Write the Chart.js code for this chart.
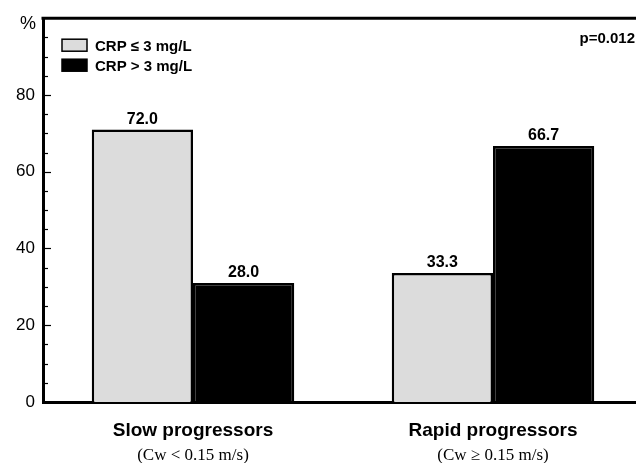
<!DOCTYPE html>
<html>
<head>
<meta charset="utf-8">
<script src="https://cdn.jsdelivr.net/npm/chart.js@4.4.1/dist/chart.umd.min.js"></script>
<style>
  html, body { margin: 0; padding: 0; background: #fff; overflow: hidden; }
  #wrap { position: relative; width: 643px; height: 463px; }
</style>
</head>
<body>
<div id="wrap"><canvas id="crpChart"></canvas></div>
<script>
  // groups on the x axis
  const categories = ['Slow progressors', 'Rapid progressors'];
  const subLabels = ['(Cw < 0.15 m/s)', '(Cw \u2265 0.15 m/s)'];

  // bar heights as drawn, and the figures printed over them
  const lowCrp = [71, 33.6];
  const highCrp = [31, 66.7];
  const lowCrpText = ['72.0', '33.3'];
  const highCrpText = ['28.0', '66.7'];

  const seriesNames = ['CRP \u2264 3 mg/L', 'CRP > 3 mg/L'];
  const yTickValues = [0, 20, 40, 60, 80];
  const pValue = 'p=0.012';

  const SANS = '"Liberation Sans", Arial, sans-serif';
  const SERIF = '"Liberation Serif", "Times New Roman", serif';

  const figurePlugin = {
    id: 'figure',
    afterDatasetsDraw(chart) {
      const ctx = chart.ctx;
      const area = chart.chartArea;
      const y = chart.scales.y;
      const x = chart.scales.x;
      ctx.save();

      // frame top line
      ctx.strokeStyle = '#000';
      ctx.lineWidth = 3;
      ctx.beginPath();
      ctx.moveTo(area.left - 1.5, area.top);
      ctx.lineTo(area.right, area.top);
      ctx.stroke();

      // inward ticks, long on labelled values
      for (let v = 5; v < 100; v += 5) {
        const py = Math.round(y.getPixelForValue(v)) + 0.5;
        const len = yTickValues.includes(v) ? 8 : 5;
        ctx.lineWidth = 1.2;
        ctx.beginPath();
        ctx.moveTo(area.left, py);
        ctx.lineTo(area.left + len, py);
        ctx.stroke();
      }

      // "%" unit at the top of the axis
      ctx.fillStyle = '#000';
      ctx.font = '18px ' + SANS;
      ctx.textAlign = 'right';
      ctx.textBaseline = 'alphabetic';
      ctx.fillText('%', area.left - 7, area.top + 11);

      // value labels over bars
      const texts = [lowCrpText, highCrpText];
      ctx.font = 'bold 16px ' + SANS;
      ctx.textAlign = 'center';
      chart.data.datasets.forEach((ds, di) => {
        chart.getDatasetMeta(di).data.forEach((bar, i) => {
          ctx.fillText(texts[di][i], bar.x, bar.y - 6);
        });
      });

      // sub labels under categories
      ctx.font = '17px ' + SERIF;
      subLabels.forEach((s, i) => {
        ctx.fillText(s, x.getPixelForTick(i), 460);
      });

      // legend inside the plot
      ctx.textAlign = 'left';
      chart.data.datasets.forEach((ds, di) => {
        const top = area.top + 21 + di * 20;
        ctx.fillStyle = ds.backgroundColor;
        ctx.fillRect(area.left + 19, top, 25, 12);
        ctx.lineWidth = 1.5;
        ctx.strokeRect(area.left + 19, top, 25, 12);
        ctx.fillStyle = '#000';
        ctx.font = 'bold 15px ' + SANS;
        ctx.fillText(ds.label, area.left + 52, top + 12);
      });

      // p value, top right
      ctx.textAlign = 'right';
      ctx.fillText(pValue, area.right - 8, area.top + 25);

      ctx.restore();
    }
  };

  new Chart(document.getElementById('crpChart'), {
    type: 'bar',
    data: {
      labels: categories,
      datasets: [
        {
          label: seriesNames[0],
          data: lowCrp,
          backgroundColor: '#dcdcdc',
          borderColor: '#000',
          borderWidth: 2.5,
          borderSkipped: 'bottom'
        },
        {
          label: seriesNames[1],
          data: highCrp,
          backgroundColor: '#000',
          borderColor: '#000',
          borderWidth: 2.5,
          borderSkipped: 'bottom'
        }
      ]
    },
    options: {
      responsive: true,
      maintainAspectRatio: false,
      animation: false,
      layout: { padding: { top: 14, right: 0, bottom: 0, left: 0 } },
      datasets: {
        bar: { barPercentage: 1, categoryPercentage: 0.675 }
      },
      plugins: {
        legend: { display: false },
        tooltip: { enabled: false }
      },
      scales: {
        x: {
          grid: { display: false, drawTicks: false },
          border: { display: true, color: '#000', width: 3 },
          ticks: {
            color: '#000',
            padding: 17,
            font: { family: SANS, size: 19, weight: 'bold' }
          },
          afterFit(scale) { scale.height = 61; }
        },
        y: {
          min: 0,
          max: 100,
          grid: { display: false, drawTicks: false },
          border: { display: true, color: '#000', width: 3 },
          ticks: {
            stepSize: 20,
            color: '#000',
            padding: 8,
            font: { family: SANS, size: 17 },
            callback: v => (yTickValues.includes(v) ? v : '')
          },
          afterFit(scale) { scale.width = 43; }
        }
      }
    },
    plugins: [figurePlugin]
  });
</script>
</body>
</html>
